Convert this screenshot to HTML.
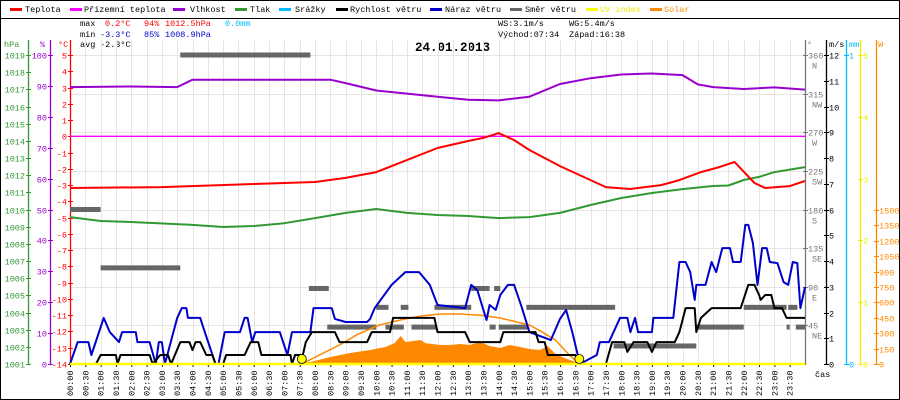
<!DOCTYPE html>
<html><head><meta charset="utf-8"><title>Meteo 24.01.2013</title>
<style>
html,body{margin:0;padding:0;background:#fff;}
svg{display:block;font-family:"Liberation Mono",monospace;}
</style></head>
<body>
<svg id="chart" xmlns="http://www.w3.org/2000/svg" width="900" height="400" viewBox="0 0 900 400">
<rect x="0.5" y="0.5" width="899" height="399" fill="#fff" stroke="#000"/>
<g font-size="8.5">
 <g><rect x="10" y="8" width="12" height="3" fill="#f00"/><text x="25" y="12">Teplota</text></g>
 <g><rect x="70" y="8" width="12" height="3" fill="#f0f"/><text x="84" y="12">Přízemní teplota</text></g>
 <g><rect x="173" y="8" width="12" height="3" fill="#90c"/><text x="190" y="12">Vlhkost</text></g>
 <g><rect x="235" y="8" width="12" height="3" fill="#393"/><text x="250" y="12">Tlak</text></g>
 <g><rect x="279" y="8" width="12" height="3" fill="#0bf"/><text x="295" y="12">Srážky</text></g>
 <g><rect x="336" y="8" width="12" height="3" fill="#000"/><text x="350" y="12">Rychlost větru</text></g>
 <g><rect x="430" y="8" width="12" height="3" fill="#00c"/><text x="445" y="12">Náraz větru</text></g>
 <g><rect x="510" y="8" width="12" height="3" fill="#666"/><text x="525" y="12">Směr větru</text></g>
 <g><rect x="586" y="8" width="12" height="3" fill="#ff0"/><text x="600" y="12" fill="#ee0">UV index</text></g>
 <g><rect x="650" y="8" width="12" height="3" fill="#f80"/><text x="664" y="12" fill="#f80">Solar</text></g>
</g>
<line x1="1" y1="18.5" x2="899" y2="18.5" stroke="#000"/>
<g font-size="8.5">
 <text x="80" y="26">max</text><text x="105" y="26" fill="#f00">0.2°C</text><text x="144" y="26" fill="#f00">94%</text><text x="165" y="26" fill="#f00">1012.5hPa</text><text x="225" y="26" fill="#0bf">0.0mm</text>
 <text x="80" y="37">min</text><text x="100" y="37" fill="#00c">-3.3°C</text><text x="144" y="37" fill="#00c">85%</text><text x="165" y="37" fill="#00c">1008.9hPa</text>
 <text x="80" y="47">avg</text><text x="100" y="47">-2.3°C</text>
 <text x="498" y="26">WS:3.1m/s</text><text x="569" y="26">WG:5.4m/s</text>
 <text x="498" y="37">Východ:07:34</text><text x="569" y="37">Západ:16:38</text>
</g>
<text x="415" y="51" font-size="12.5" font-weight="bold">24.01.2013</text>
<g id="grid"></g>
<g id="axes"></g>
<g id="series"></g>
</svg>
<script>
// ---------- data ----------
const tempHours=[0,3,6,8,9,10,11,12,13,13.5,14,14.5,15,16,17,17.5,18.3,19.3,19.9,20.6,21.2,21.7,21.95,22.35,22.7,23.5,24];
const tempVals=[-3.18,-3.12,-2.93,-2.81,-2.56,-2.2,-1.46,-0.72,-0.29,-0.1,0.2,-0.23,-0.84,-1.83,-2.69,-3.12,-3.24,-3.0,-2.69,-2.2,-1.89,-1.58,-2.08,-2.87,-3.18,-3.06,-2.75];
const apparentHours=[0,24];
const apparentVals=[0,0];
const humHours=[0,2,3.5,4,6,8.5,9,10,11,12,13,14,15,16,17,18,19,20,20.5,21,22,23,24];
const humVals=[89.6,89.8,89.6,92,92,92,90.9,88.5,87.5,86.5,85.5,85.3,86.5,90.6,92.5,93.7,94,93.5,90.5,89.6,89,89.5,88.8];
const presHours=[0,1,2,4,5,6,7,8,9,10,11,12,13,14,15,16,17,18,19,20,21,21.5,22,22.5,23,24];
const presVals=[1009.56,1009.33,1009.27,1009.1,1008.98,1009.04,1009.2,1009.5,1009.8,1010.03,1009.8,1009.68,1009.62,1009.5,1009.56,1009.8,1010.26,1010.67,1010.96,1011.19,1011.37,1011.4,1011.72,1011.9,1012.18,1012.47];
const gustHours=[0,0.25,0.6,0.7,1.1,1.3,1.6,1.7,2.15,2.2,2.6,2.8,2.9,3.0,3.1,3.5,3.65,3.8,3.85,4.25,4.4,4.75,4.85,5.05,5.55,5.7,5.8,5.95,6.05,6.85,7.1,7.25,7.85,7.95,8.55,8.65,9.0,9.7,9.8,9.95,10.5,10.95,11.4,11.75,12.0,12.9,13.1,13.3,13.6,13.7,13.9,14.05,14.3,14.5,14.75,15.0,15.7,16.0,16.2,16.4,16.65,17.2,17.3,17.6,17.96,18.2,18.3,18.45,18.55,19.0,19.05,19.7,19.9,20.1,20.25,20.4,20.45,20.75,20.95,21.1,21.3,21.55,21.65,21.9,22.05,22.15,22.3,22.45,22.6,22.75,22.85,23.1,23.3,23.45,23.6,23.75,23.85,24];
const gustVals=[0,0.85,0.85,0.35,1.79,1.24,0.85,1.24,1.24,0.85,0.85,0,0.85,0.85,0,1.79,2.17,2.17,1.79,1.79,1.24,0,0,1.24,1.24,1.79,1.79,0.85,1.24,1.24,0.35,1.24,1.24,2.17,2.17,1.75,1.63,1.63,1.75,2.17,3.07,3.57,3.57,3.07,2.29,2.17,3.07,2.87,1.71,2.29,2.1,2.68,3.07,3.07,2.21,1.24,0.93,1.75,2.1,1.24,0,0.35,0.85,0.85,1.79,1.79,1.24,1.79,1.24,1.24,1.79,1.79,3.96,3.96,3.57,2.49,3.07,3.07,3.96,3.57,4.5,4.5,3.96,3.96,5.4,5.4,4.7,3.07,4.5,4.5,3.96,3.92,3.18,3.07,3.96,3.92,2.17,2.99];
const speedHours=[0,0.85,1.0,1.5,1.55,1.65,2.6,2.7,2.95,3.2,3.3,3.6,3.9,4.0,4.1,4.25,4.45,4.65,4.75,5.0,5.1,5.7,5.9,6.15,6.25,7.2,7.25,7.35,7.6,7.7,7.9,8.65,8.8,9.7,9.85,10.45,10.55,11.9,12.0,12.9,13.05,14.05,14.15,15.2,15.3,15.5,15.6,16.5,16.65,17.5,17.7,18.1,18.2,18.4,18.85,19.0,19.15,19.75,19.9,20.1,20.4,20.45,20.6,20.95,21.9,22.15,22.35,22.5,22.55,22.7,22.9,23.0,23.25,23.4,24];
const speedVals=[0,0,0.35,0.35,0,0.35,0.35,0,0.35,0.35,0,0.85,0.85,0.54,0.85,0.85,0.35,0.35,0,0,0.35,0.35,0.85,0.85,0.35,0.35,0,0.35,0.35,0.85,1.24,1.24,0.85,0.85,1.24,1.24,1.79,1.79,1.24,1.24,0.85,0.85,1.24,1.24,0.85,0.85,0.35,0.35,0,0,0.85,0.85,0.47,0.85,0.85,0.47,0.85,0.85,1.24,2.17,2.17,1.24,1.79,2.17,2.17,3.07,3.07,2.68,2.49,2.68,2.68,2.17,2.17,1.79,1.79];
const dirStart=[0,1.0,3.6,7.8,8.4,10.0,10.8,10.3,11.15,11.9,13.1,13.85,13.7,14.0,14.9,17.75,20.45,22.0,23.45,23.4,23.7];
const dirEnd=[1.0,3.6,7.85,8.45,10.0,10.4,11.05,10.9,11.95,13.1,13.7,14.05,13.9,14.95,17.8,20.45,22.0,23.4,23.75,23.5,24];
const dirDeg=[180,112,360,88,43,66,66,43,43,66,88,88,43,43,66,21,43,66,66,43,43];
const solarHours=[7.35,7.85,8.5,9.15,9.8,10.3,10.6,10.8,10.95,11.45,11.6,12.1,12.4,12.75,13.05,13.4,13.7,14.05,14.35,14.7,15.0,15.35,15.6,15.85,16.15,16.5,16.65];
const solarVals=[0,19,68,107,136,166,204,273,214,234,204,185,185,195,185,214,175,156,185,166,146,136,175,97,58,19,0];
const solarMaxHours=[7.57,8.2,8.8,9.4,10.1,10.8,11.45,12.1,12.75,13.4,14.05,15.0,15.4,15.85,16.3,16.65];
const solarMaxVals=[0,95,185,290,380,430,468,487,487,475,448,380,315,234,88,0];
const uvHours=[0,24];
const uvVals=[0,0];
const sunEvents=[7.57,16.63];
const hpaTicks=[1019,1018,1017,1016,1015,1014,1013,1012,1011,1010,1009,1008,1007,1006,1005,1004,1003,1002,1001];
const humTicks=[100,90,80,70,60,50,40,30,20,10,0];
const tempTicks=[5,4,3,2,1,0,-1,-2,-3,-4,-5,-6,-7,-8,-9,-10,-11,-12,-13,-14];
const dirTicks=[360,315,270,225,180,135,90,45];
const dirNames=["N","NW","W","SW","S","SE","E","NE"];
const msTicks=[12,11,10,9,8,7,6,5,4,3,2,1,0];
const mmTicks=[1,0];
const uvTicks=[5,4,3,2,1,0];
const wTicks=[1500,1350,1200,1050,900,750,600,450,300,150,0];
const timeLabels=[];
for(let i=0;i<48;i++){const h=Math.floor(i/2);timeLabels.push((h<10?"0":"")+h+":"+(i%2?"30":"00"));}

// ---------- scales ----------
const X0=70,X1=805,YT=55,YB=364;
const X=h=>X0+h*(X1-X0)/24;
const yT=v=>YT+(5-v)*(YB-YT)/19;
const yH=v=>YB-v*(YB-YT)/100;
const yP=v=>YB-(v-1001)*(YB-YT)/18;
const yW=v=>YB-v*(YB-YT)/12;
const yD=v=>YB-v*(YB-YT)/360;
const yMM=v=>YB-v*(YB-YT);
const yUV=v=>YB-v*(YB-YT)/5;
const ySol=v=>YB-v*154/1500;

const NS="http://www.w3.org/2000/svg";
function mk(tag,attrs,parent){const e=document.createElementNS(NS,tag);for(const k in attrs)e.setAttribute(k,attrs[k]);parent.appendChild(e);return e;}
const grid=document.getElementById('grid'),axes=document.getElementById('axes'),series=document.getElementById('series');

// grid
for(let i=0;i<=48;i++){const x=Math.round(X(i/2))+0.5;const l=mk('line',{x1:x,y1:40,x2:x,y2:YB,stroke:'#e8e4e4'},grid);

}
for(let i=0;i<=8;i++){const y=Math.round(yD(i*45))+0.5;const l=mk('line',{x1:X0,y1:y,x2:X1,y2:y,stroke:'#e8e4e4'},grid);

}

// axis helper
function axis(name,x,color,ticks,yf,side,hdr,hx,extra){
 const g=mk('g',{fill:color,'font-size':'8.5'},axes);
 
 
 mk('line',{x1:x+0.5,y1:40,x2:x+0.5,y2:YB+1,stroke:color,'stroke-width':1.3},g);
 mk('text',{x:hx,y:47},g).textContent=hdr;
 ticks.forEach((t,i)=>{const y=Math.round(yf(t))+0.5;
  mk('line',{x1:x-2,y1:y,x2:x+3,y2:y,stroke:color},g);
  const tx=mk('text',side<0?{x:x-3,y:y+3,'text-anchor':'end'}:{x:x+3,y:y+3},g);tx.textContent=t;
  
  
  if(extra){const e=mk('text',{x:x+7,y:y+13},g);e.textContent=extra[i];}
 });
}
axis('pressure-axis',28,'#393',hpaTicks,yP,-1,'hPa',4);
axis('humidity-axis',50,'#90c',humTicks,yH,-1,'%',40);
axis('temperature-axis',70,'#f00',tempTicks,yT,-1,'°C',58);
axis('direction-axis',805,'#777',dirTicks,yD,1,'°',807,dirNames);
axis('wind-speed-axis',826,'#000',msTicks,yW,1,'m/s',829);
axis('rain-axis',846,'#0bf',mmTicks,yMM,1,'mm',849);
axis('uv-axis',860,'#ee0',uvTicks,yUV,1,'',862);
axis('solar-axis',876,'#f80',wTicks,ySol,1,'W',878);

// time axis
const tg=mk('g',{'font-size':'8.5'},axes);


timeLabels.forEach((lab,i)=>{const x=X(i/2);
 mk('line',{x1:x+0.5,y1:YB,x2:x+0.5,y2:YB+3,stroke:'#000'},tg);
 const t=mk('text',{x:0,y:0,transform:`translate(${x+3},396) rotate(-90)`},tg);t.textContent=lab;
 
 
});
const cas=mk('text',{x:815,y:377,'font-size':'8.5'},axes);cas.textContent='čas';



// series helpers
function pts(hs,vs,yf){return hs.map((h,i)=>X(h).toFixed(1)+','+yf(vs[i]).toFixed(1)).join(' ');}
function line(name,hs,vs,yf,color,w){const p=mk('polyline',{points:pts(hs,vs,yf),fill:'none',stroke:color,'stroke-width':w,'stroke-linejoin':'round'},series);
 
 return p;}

// solar area
const sa=mk('polygon',{points:pts(solarHours,solarVals,ySol)+` ${X(solarHours[solarHours.length-1])},${YB} ${X(solarHours[0])},${YB}`,fill:'#f80'},series);


// wind direction
dirDeg.forEach((d,i)=>{const r=mk('rect',{x:X(dirStart[i]),y:yD(d)-2.5,width:X(dirEnd[i])-X(dirStart[i]),height:5,fill:'#666'},series);
 
 });
line('apparent-temperature-line',apparentHours,apparentVals,yT,'#f0f',1.3);
line('humidity-line',humHours,humVals,yH,'#90c',2);
line('pressure-line',presHours,presVals,yP,'#393',2);
line('temperature-line',tempHours,tempVals,yT,'#f00',2);
line('solar-max-line',solarMaxHours,solarMaxVals,ySol,'#f80',1.5);
line('wind-gust-line',gustHours,gustVals,yW,'#00c',2);
line('wind-speed-line',speedHours,speedVals,yW,'#000',2);
line('uv-line',uvHours,uvVals,yUV,'#ff0',2.5);
sunEvents.forEach(h=>{const c=mk('circle',{cx:X(h),cy:YB-5,r:4.5,fill:'#ff0',stroke:'#000','stroke-width':0.8},series);
 
 });
</script>
</body></html>
